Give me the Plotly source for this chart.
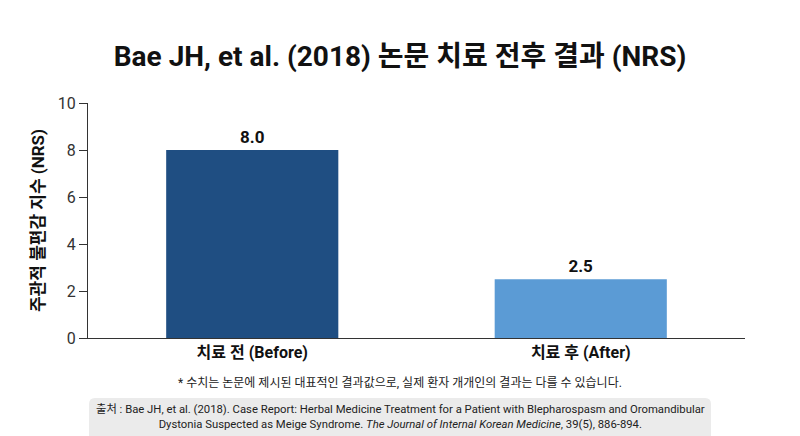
import plotly.graph_objects as go

categories = ["치료 전 (Before)", "치료 후 (After)"]
values = [8.0, 2.5]
bar_colors = ["#1f4e82", "#5b9bd5"]
value_labels = ["<b>8.0</b>", "<b>2.5</b>"]
y_ticks = [0, 2, 4, 6, 8, 10]

FONT = "Roboto, Noto Sans CJK KR"

# page has an 8px body margin; figure sized to fit the 800x436 window
W, H = 792, 428
ML, MR, MT, MB = 80, 55, 95, 98
PW, PH = W - ML - MR, H - MT - MB

def px(fx):
    return (fx - ML) / PW

def py(fy):
    return (MT + PH - fy) / PH

fig = go.Figure()
fig.add_trace(go.Bar(
    x=[f"<b>{c}</b>" for c in categories], y=values,
    marker=dict(color=bar_colors, line=dict(width=0)),
    text=value_labels, textposition="outside", cliponaxis=False,
    textfont=dict(family=FONT, size=17, color="#111"),
    width=0.524,
))

fig.update_layout(
    width=W, height=H,
    margin=dict(l=ML, r=MR, t=MT, b=MB),
    paper_bgcolor="white", plot_bgcolor="white",
    showlegend=False,
    font=dict(family=FONT, color="#222"),
    title=dict(text="<b>Bae JH, et al. (2018) 논문 치료 전후 결과 (NRS)</b>",
               xref="paper", x=px(392), xanchor="center",
               y=1 - 48 / H, yanchor="middle",
               font=dict(family=FONT, size=28, color="#111")),
    xaxis=dict(showline=True, linecolor="#333", linewidth=1.2, ticks="",
               tickfont=dict(family=FONT, size=16, color="#111")),
    yaxis=dict(range=[0, 10], tickvals=y_ticks, showline=True, linecolor="#333",
               linewidth=1.2, ticks="outside", ticklen=8, tickcolor="#333",
               showgrid=False, zeroline=False,
               tickfont=dict(family=FONT, size=16, color="#333"),
               title=dict(text="<b>주관적 불편감 지수 (NRS)</b>", standoff=8,
                          font=dict(family=FONT, size=17, color="#111"))),
)

x0, x1 = px(81), px(703)
y0, y1 = py(390), py(432)
rx, ry = 6 / PW, 6 / PH
path = (f"M {x0+rx},{y0} L {x1-rx},{y0} Q {x1},{y0} {x1},{y0-ry} "
        f"L {x1},{y1} L {x0},{y1} L {x0},{y0-ry} Q {x0},{y0} {x0+rx},{y0} Z")
fig.add_shape(type="path", xref="paper", yref="paper", path=path,
              fillcolor="#ebebeb", line=dict(width=0), layer="below")

fig.add_annotation(xref="paper", yref="paper", x=px(392), y=py(375), yanchor="middle",
                   text="* 수치는 논문에 제시된 대표적인 결과값으로, 실제 환자 개개인의 결과는 다를 수 있습니다.",
                   showarrow=False, font=dict(family=FONT, size=12, color="#222"))
fig.add_annotation(xref="paper", yref="paper", x=px(392), y=py(409), yanchor="middle",
                   text="출처 : Bae JH, et al. (2018). Case Report: Herbal Medicine Treatment for a Patient with Blepharospasm and Oromandibular<br>Dystonia Suspected as Meige Syndrome. <i>The Journal of Internal Korean Medicine</i>, 39(5), 886-894.",
                   showarrow=False, align="center",
                   font=dict(family=FONT, size=11.3, color="#222"))

fig.write_html("out.html")
